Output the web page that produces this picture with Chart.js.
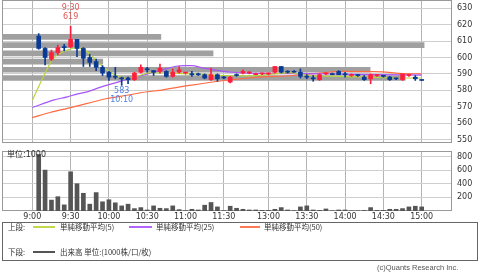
<!DOCTYPE html>
<html>
<head>
<meta charset="UTF-8">
<title>株価チャート</title>
<script src="https://cdn.jsdelivr.net/npm/chart.js"></script>
<style>
  body { margin: 0; width: 480px; height: 272px; background: #fff; position: relative; overflow: hidden; }
  .pane { position: absolute; left: 0; width: 480px; }
  .txt { position: absolute; white-space: nowrap; line-height: 1; color: #333; font-family: "DejaVu Sans", "Noto Sans CJK JP", sans-serif; }
  .jp { font-family: "Noto Sans CJK JP", sans-serif; font-size: 7.5px; }
  .swatch { position: absolute; height: 2px; }
</style>
</head>
<body>
<div class="pane" style="top:0;height:146px"><canvas id="priceChart"></canvas></div>
<div class="pane" style="top:148px;height:76px"><canvas id="volChart"></canvas></div>

<div class="txt" style="left:7px;top:151px;font-size:8px">単位:1000</div>

<div style="position:absolute;left:2px;top:222px;width:474px;height:37px;border:1px solid #666"></div>
<div class="txt jp" style="left:8px;top:223px">上段:</div>
<div class="swatch" style="left:33px;top:226px;width:22px;background:#c3d84a"></div>
<div class="txt jp" style="left:60px;top:223px">単純移動平均(5)</div>
<div class="swatch" style="left:129px;top:226px;width:23px;background:#b366ff"></div>
<div class="txt jp" style="left:156px;top:223px">単純移動平均(25)</div>
<div class="swatch" style="left:240px;top:226px;width:20px;background:#ff7a55"></div>
<div class="txt jp" style="left:264px;top:223px">単純移動平均(50)</div>
<div class="txt jp" style="left:8px;top:248px">下段:</div>
<div class="swatch" style="left:33px;top:251px;width:22px;background:#555"></div>
<div class="txt jp" style="left:60px;top:248px">出来高 単位:(1000株/口/枚)</div>

<div class="txt" style="left:377px;top:264px;font-size:7.5px;color:#555;font-family:'Liberation Sans',sans-serif">(c)Quants Research Inc.</div>

<script>
// 時間軸 (5分足スロット)
const timeLabels = ['9:00', '9:30', '10:00', '10:30', '11:00', '11:30', '13:00', '13:30', '14:00', '14:30', '15:00'];
const timeSlots = [0, 6, 12, 18, 24, 30, 37, 43, 49, 55, 61];
const priceTicks = [550, 560, 570, 580, 590, 600, 610, 620, 630];
const volumeTicks = [200, 400, 600, 800];

const barSlots = [1, 2, 3, 4, 5, 6, 7, 8, 9, 10, 11, 12, 13, 14, 15, 16, 17, 18, 19, 20,
    21, 22, 23, 24, 25, 26, 27, 28, 29, 30, 31, 32, 33, 34, 35, 36, 37, 38, 39, 40,
    41, 42, 43, 44, 45, 46, 47, 48, 49, 50, 51, 52, 53, 54, 55, 56, 57, 58, 59, 60, 61];
const opens = [613, 605.5, 599, 603, 606.5, 606.5, 611, 605.5, 600, 597.5,
    594, 591, 588.5, 587.5, 587.5, 586.5, 591, 593, 592, 591.5,
    591.5, 588.5, 591, 590.5, 590, 590, 589.5, 586.5, 589.5, 588,
    585, 589.5, 590.5, 590.5, 589.5, 590, 590, 591, 594.5, 591.5,
    591.5, 591, 588.5, 587.5, 586.5, 590, 590, 591.5, 590, 589,
    589.5, 588, 587, 589, 589, 588, 587.5, 586.5, 589, 588, 586.5];
const highs = [614.5, 606, 604.5, 607.5, 608, 619, 611, 606, 602, 599,
    595, 591.5, 594, 588, 588, 591, 595.5, 594, 592, 596,
    592, 593, 594.5, 591, 591.5, 590.5, 590, 593.5, 590, 588.5,
    588.5, 590, 592.5, 591.5, 590.5, 590.5, 590.5, 594.5, 594.5, 592,
    592, 593, 589.5, 589, 590, 590.5, 590.5, 592, 591, 590,
    589.5, 589, 590, 589.5, 589, 588.5, 587.5, 590, 589.5, 589, 586.5];
const lows = [605, 595.5, 598, 601.5, 604, 606, 600.5, 594.5, 594.5, 592,
    589, 586, 587, 583, 584, 586, 590.5, 591, 589, 590.5,
    588, 588, 590.5, 590, 588.5, 589, 587, 586, 585.5, 587,
    584.5, 588.5, 590, 590, 589.5, 589.5, 589.5, 590.5, 590.5, 590.5,
    591, 587.5, 587, 585.5, 586, 589.5, 589.5, 589.5, 588, 588.5,
    588.5, 586, 584, 588.5, 588, 586, 586.5, 586, 588.5, 586, 586];
const closes = [605.5, 600, 603, 606, 606, 611, 605.5, 599.5, 597, 594,
    590.5, 588, 588, 587, 586.5, 590.5, 594, 592.5, 591, 593.5,
    588.5, 591, 592.5, 590.5, 589.5, 589.5, 587.5, 589.5, 587, 587.5,
    588, 589, 591.5, 591, 590, 590, 590.5, 594.5, 591, 591,
    591, 588.5, 588, 587, 589.5, 590.5, 589.5, 589.5, 589.5, 589.5,
    589, 586.5, 589.5, 589.5, 588.5, 586.5, 587, 590, 589.5, 587, 586];
// 出来高 (1000株)
const volumes = [830, 600, 160, 210, 90, 575, 400, 260, 100, 270,
    135, 165, 120, 75, 100, 35, 50, 15, 75, 40,
    35, 75, 20, 5, 25, 15, 85, 125, 60, 5,
    70, 40, 25, 15, 15, 10, 10, 25, 50, 15,
    5, 60, 75, 15, 10, 30, 3, 15, 15, 3,
    3, 8, 50, 10, 10, 25, 25, 35, 60, 70, 60];

// 移動平均 (画面から読み取り)
const sma5Slots = [0, 1.7, 3.3, 5.5, 7, 8.6, 10.2, 11.7, 13.3, 14.8, 16.4, 18.4, 21.6, 26.3, 30.2, 34, 38, 40.3, 43.4, 48.1, 52.8, 57.5, 61];
const sma5Values = [574, 588, 599.5, 604.5, 606, 603.5, 597.4, 592.3, 588.7, 587.2, 588.5, 590.7, 590.5, 589.8, 589, 588.8, 590, 590.8, 589, 588.5, 588, 587.5, 587.5];
const sma25Slots = [0, 3.3, 5.5, 7, 8.6, 10.6, 12.7, 14.8, 16.9, 20, 22.3, 23.9, 25, 26.6, 29.7, 31.3, 34.8, 40.3, 46.6, 54.4, 61];
const sma25Values = [569.5, 574, 576, 577.7, 579, 581.8, 584.2, 586.6, 588.7, 592, 594.5, 595, 595, 593.7, 591.7, 591, 590.3, 590.2, 590, 589.5, 589.3];
const sma50Slots = [0, 2.8, 5.5, 8.6, 11.7, 14.8, 18, 20, 24.4, 29.7, 34.8, 40.8, 45, 48.9, 54.8, 57.5, 61];
const sma50Values = [563.4, 566.5, 569, 572, 575, 577, 579.1, 580, 582.8, 585.8, 587.8, 589, 590.5, 591.5, 591.2, 590.3, 590];

// 価格帯別出来高 (パネル幅に対する%)
const profilePrices = [612.5, 607.5, 602.5, 597.5, 592.5, 587.5];
const profileShare = [35.3, 93.8, 46.9, 22.4, 81.8, 89.6];

const highTime = '9:30';
const lowTime = '10:10';

const upColor = '#ff1f3d';
const downColor = '#0b3a94';
const candleColors = closes.map((c, i) => c >= opens[i] ? upColor : downColor);
const tickFont = { family: 'DejaVu Sans', size: 8 };

const framePlugin = {
    id: 'frame',
    beforeDatasetsDraw(chart) {
        const { ctx, chartArea: a } = chart;
        ctx.save();
        ctx.strokeStyle = '#999';
        ctx.lineWidth = 1;
        ctx.strokeRect(a.left + 0.5, a.top + 0.5, a.right - a.left - 1, a.bottom - a.top - 1);
        ctx.restore();
    }
};

const markPlugin = {
    id: 'marks',
    afterDatasetsDraw(chart) {
        const { ctx, scales: { x, y } } = chart;
        const hi = highs.indexOf(Math.max(...highs));
        const lo = lows.indexOf(Math.min(...lows));
        ctx.save();
        ctx.font = '8px "DejaVu Sans"';
        ctx.textAlign = 'center';
        ctx.textBaseline = 'middle';
        const hx = x.getPixelForValue(barSlots[hi]), hy = y.getPixelForValue(highs[hi]);
        ctx.fillStyle = '#e05a5a';
        ctx.fillText(highTime, hx, hy - 18);
        ctx.fillText(String(highs[hi]), hx, hy - 9);
        const lx = x.getPixelForValue(barSlots[lo]), ly = y.getPixelForValue(lows[lo]);
        ctx.fillStyle = '#4f7fe0';
        ctx.fillText(String(lows[lo]), lx, ly + 6);
        ctx.fillText(lowTime, lx, ly + 15);
        ctx.restore();
    }
};

const xRange = { min: -4.75, max: 65.75 };

function maLine(slots, values, color) {
    return {
        type: 'line',
        data: slots.map((s, i) => ({ x: s, y: values[i] })),
        borderColor: color,
        borderWidth: 1.2,
        pointRadius: 0,
        cubicInterpolationMode: 'monotone',
        order: 1
    };
}

new Chart(document.getElementById('priceChart'), {
    type: 'bar',
    data: {
        datasets: [
            {
                type: 'bar',
                data: barSlots.map((s, i) => ({ x: s, y: [opens[i], closes[i]] })),
                backgroundColor: candleColors,
                barThickness: 4,
                minBarLength: 1,
                grouped: false,
                order: 0
            },
            {
                type: 'bar',
                data: barSlots.map((s, i) => ({ x: s, y: [lows[i], highs[i]] })),
                backgroundColor: candleColors,
                barThickness: 1,
                grouped: false,
                order: 0
            },
            maLine(sma5Slots, sma5Values, '#b9d43c'),
            maLine(sma25Slots, sma25Values, '#a855f7'),
            maLine(sma50Slots, sma50Values, '#ff6a42'),
            {
                type: 'bar',
                indexAxis: 'y',
                xAxisID: 'xp',
                yAxisID: 'y',
                data: profilePrices.map((p, i) => ({ x: profileShare[i], y: p })),
                backgroundColor: '#a0a0a0',
                barThickness: 5,
                grouped: false,
                order: 2
            }
        ]
    },
    options: {
        responsive: true,
        maintainAspectRatio: false,
        animation: false,
        layout: { padding: { left: 2, right: 0, top: 0, bottom: 3 } },
        plugins: { legend: { display: false }, tooltip: { enabled: false } },
        scales: {
            x: {
                type: 'linear', min: xRange.min, max: xRange.max, offset: false,
                afterBuildTicks: s => { s.ticks = timeSlots.map(v => ({ value: v })); },
                afterFit: s => { s.height = 0; s.paddingLeft = 0; s.paddingRight = 0; },
                ticks: { display: false },
                grid: { color: '#b4b4b4', drawTicks: false, offset: false },
                border: { display: false }
            },
            xp: {
                type: 'linear', display: false, min: 0, max: 100, offset: false
            },
            y: {
                type: 'linear', position: 'right', min: 547.9, max: 635, offset: false,
                afterBuildTicks: s => { s.ticks = priceTicks.map(v => ({ value: v })); },
                afterFit: s => { s.width = 28; s.paddingTop = 0; s.paddingBottom = 0; },
                ticks: { font: tickFont, color: '#333', padding: 5 },
                grid: { color: '#cfcfcf', drawTicks: false, offset: false },
                border: { display: false }
            }
        }
    },
    plugins: [framePlugin, markPlugin]
});

new Chart(document.getElementById('volChart'), {
    type: 'bar',
    data: {
        datasets: [{
            data: barSlots.map((s, i) => ({ x: s, y: volumes[i] })),
            backgroundColor: '#555',
            barThickness: 4,
            grouped: false
        }]
    },
    options: {
        responsive: true,
        maintainAspectRatio: false,
        animation: false,
        layout: { padding: { left: 2, right: 0, top: 3, bottom: 0 } },
        plugins: { legend: { display: false }, tooltip: { enabled: false } },
        scales: {
            x: {
                type: 'linear', min: xRange.min, max: xRange.max, offset: false,
                afterBuildTicks: s => { s.ticks = timeSlots.map(v => ({ value: v })); },
                afterFit: s => { s.height = 13; s.paddingLeft = 0; s.paddingRight = 0; },
                ticks: {
                    font: tickFont, color: '#333', padding: 1, autoSkip: false, maxRotation: 0,
                    callback: (v, i) => timeLabels[i]
                },
                grid: { color: '#b4b4b4', drawTicks: false, offset: false },
                border: { display: false }
            },
            y: {
                type: 'linear', position: 'right', min: 0, max: 880, offset: false,
                afterBuildTicks: s => { s.ticks = volumeTicks.map(v => ({ value: v })); },
                afterFit: s => { s.width = 28; s.paddingTop = 0; s.paddingBottom = 0; },
                ticks: { font: tickFont, color: '#333', padding: 5 },
                grid: { color: '#cfcfcf', drawTicks: false, offset: false },
                border: { display: false }
            }
        }
    },
    plugins: [framePlugin]
});
</script>
</body>
</html>
